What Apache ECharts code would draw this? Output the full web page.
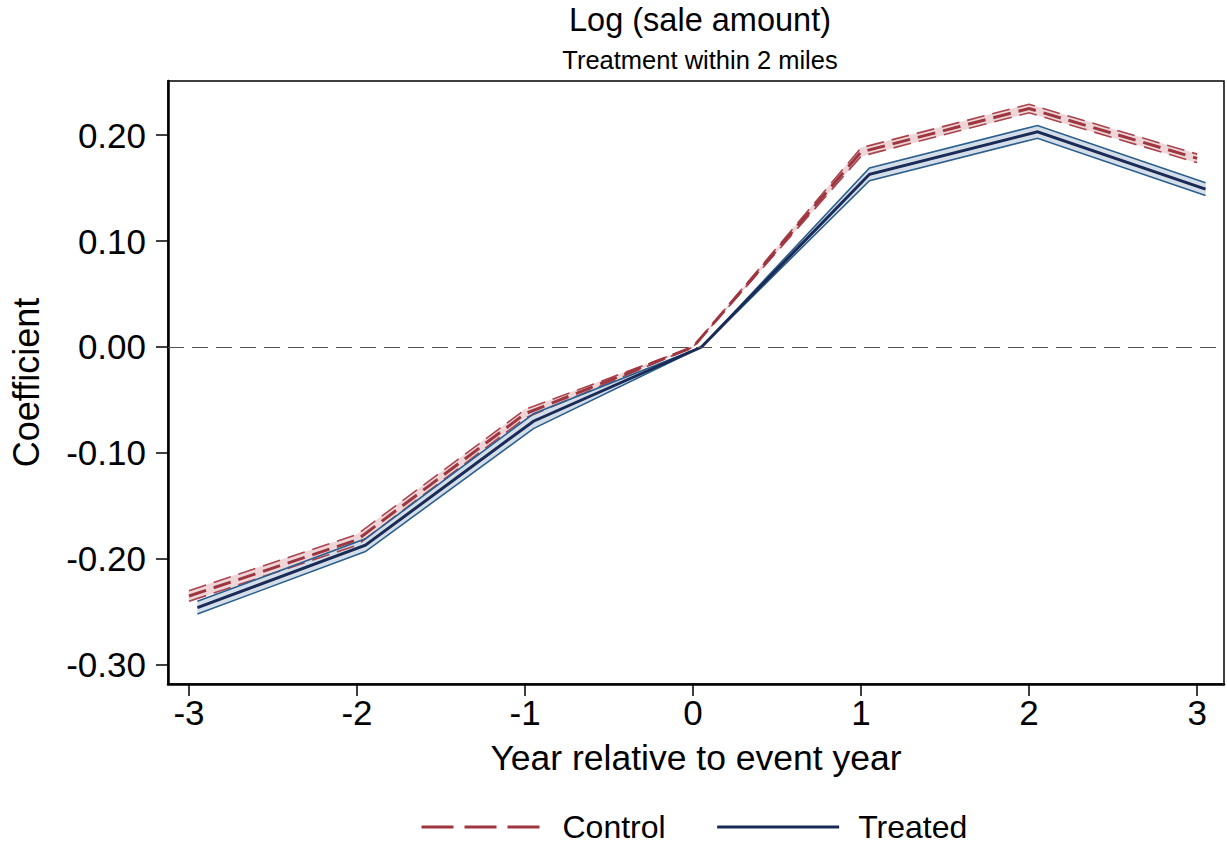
<!DOCTYPE html>
<html>
<head>
<meta charset="utf-8">
<script src="https://cdn.jsdelivr.net/npm/echarts@6/dist/echarts.min.js"></script>
<style>
html,body{margin:0;padding:0;background:#fff;}
#chart{width:1227px;height:847px;}
</style>
</head>
<body>
<div id="chart"></div>
<script>
// ---- data ----
const yearTicks = [-3, -2, -1, 0, 1, 2, 3];
const yTicks = [-0.30, -0.20, -0.10, 0.00, 0.10, 0.20];
const controlX = [-3, -2, -1, 0, 1, 2, 3];
const controlCoef = [-0.235, -0.182, -0.063, 0, 0.184, 0.225, 0.178];
const controlLo   = [-0.240, -0.187, -0.067, 0, 0.180, 0.221, 0.174];
const controlHi   = [-0.230, -0.177, -0.059, 0, 0.188, 0.229, 0.182];
const treatedX = [-2.95, -1.95, -0.95, 0.05, 1.05, 2.05, 3.05];
const treatedCoef = [-0.246, -0.187, -0.070, 0, 0.163, 0.203, 0.149];
const treatedLo   = [-0.252, -0.193, -0.077, 0, 0.157, 0.197, 0.143];
const treatedHi   = [-0.240, -0.181, -0.063, 0, 0.169, 0.209, 0.155];
const titleText = 'Log (sale amount)';
const subtitleText = 'Treatment within 2 miles';
const xName = 'Year relative to event year';
const yName = 'Coefficient';

const FONT = '"Liberation Sans", Arial, Helvetica, sans-serif';
const RED = '#9E3640', RED_EDGE = '#A9444D', RED_FILL = '#EED5D8';
const BLUE = '#1B2B57', BLUE_EDGE = '#2C5F8E', BLUE_FILL = '#D4DEE9';
const DASH = [18, 8];
const CLEAR = 'rgba(0,0,0,0)';

function pts(xs, ys) { return xs.map((x, i) => [x, ys[i]]); }
function segs(xs, lo, hi) {
  const out = [];
  for (let i = 0; i < xs.length - 1; i++) out.push([xs[i], lo[i], hi[i], xs[i + 1], lo[i + 1], hi[i + 1]]);
  return out;
}
function bandSeries(name, xs, lo, hi, fill) {
  return {
    name: name, type: 'custom', silent: true,
    data: segs(xs, lo, hi),
    encode: { x: [0, 3], y: [1, 2, 4, 5] },
    renderItem: function (params, api) {
      const a = api.coord([api.value(0), api.value(1)]);
      const b = api.coord([api.value(3), api.value(4)]);
      const c = api.coord([api.value(3), api.value(5)]);
      const d = api.coord([api.value(0), api.value(2)]);
      return { type: 'polygon', shape: { points: [a, b, c, d] }, style: { fill: fill, stroke: fill, lineWidth: 0.6 } };
    }
  };
}
function lineSeries(name, xs, ys, color, width, type, extra) {
  return Object.assign({
    name: name, type: 'line', data: pts(xs, ys), symbol: 'none', silent: true,
    lineStyle: { color: color, width: width, type: type, cap: 'butt', join: 'miter' },
    itemStyle: { color: color }, animation: false
  }, extra || {});
}

const chart = echarts.init(document.getElementById('chart'), null, { renderer: 'svg' });
chart.setOption({
  animation: false,
  backgroundColor: '#fff',
  title: [
    { text: titleText, left: 695, top: -2, textAlign: 'center',
      textStyle: { fontFamily: FONT, fontSize: 32.5, fontWeight: 'normal', color: '#000' } },
    { text: subtitleText, left: 695, top: 42, textAlign: 'center',
      textStyle: { fontFamily: FONT, fontSize: 25.5, fontWeight: 'normal', color: '#000' } }
  ],
  legend: {
    left: 415, top: 806, itemWidth: 122, itemHeight: 12, itemGap: 50,
    itemStyle: { color: CLEAR, borderColor: CLEAR, borderWidth: 0, opacity: 0 },
    data: [
      { name: 'Control', lineStyle: { color: RED, width: 3, type: [32, 11] } },
      { name: 'Treated', lineStyle: { color: BLUE, width: 3, type: 'solid' } }
    ],
    textStyle: { fontFamily: FONT, fontSize: 32, color: '#000', padding: [0, 0, 0, 14] }
  },
  grid: { left: 165, top: 81, right: 3, bottom: 163, show: true, borderColor: '#000', borderWidth: 1.5, containLabel: false },
  xAxis: {
    type: 'value', min: -3.125, max: 3.16,
    name: xName, nameLocation: 'middle', nameGap: 56,
    nameTextStyle: { fontFamily: FONT, fontSize: 35.5, color: '#000' },
    axisLine: { show: true, onZero: false, lineStyle: { color: '#000', width: 2.5 } },
    axisTick: { show: true, length: 12, lineStyle: { color: '#000', width: 1.5 }, customValues: yearTicks },
    axisLabel: { fontFamily: FONT, fontSize: 35, color: '#000', margin: 11, customValues: yearTicks,
      formatter: v => String(Math.round(v)) },
    splitLine: { show: false }
  },
  yAxis: {
    type: 'value', min: -0.318, max: 0.251,
    name: yName, nameLocation: 'middle', nameGap: 124,
    nameTextStyle: { fontFamily: FONT, fontSize: 36, color: '#000' },
    axisLine: { show: true, onZero: false, lineStyle: { color: '#000', width: 2.5 } },
    axisTick: { show: true, length: 12, lineStyle: { color: '#000', width: 1.5 }, customValues: yTicks },
    axisLabel: { fontFamily: FONT, fontSize: 35, color: '#000', margin: 22, customValues: yTicks,
      formatter: v => (Math.abs(v) < 1e-9 ? 0 : v).toFixed(2) },
    splitLine: { show: false }
  },
  series: [
    bandSeries('controlBand', controlX, controlLo, controlHi, RED_FILL),
    lineSeries('controlLo', controlX, controlLo, RED_EDGE, 1.6, DASH),
    lineSeries('controlHi', controlX, controlHi, RED_EDGE, 1.6, DASH),
    lineSeries('Control', controlX, controlCoef, RED, 3, DASH, {
      markLine: { silent: true, symbol: 'none', label: { show: false },
        lineStyle: { color: '#555', width: 1.2, type: [16, 8] },
        data: [{ yAxis: 0 }] }
    }),
    bandSeries('treatedBand', treatedX, treatedLo, treatedHi, BLUE_FILL),
    lineSeries('treatedLo', treatedX, treatedLo, BLUE_EDGE, 1.6, 'solid'),
    lineSeries('treatedHi', treatedX, treatedHi, BLUE_EDGE, 1.6, 'solid'),
    lineSeries('Treated', treatedX, treatedCoef, BLUE, 3, 'solid')
  ]
});
</script>
</body>
</html>
